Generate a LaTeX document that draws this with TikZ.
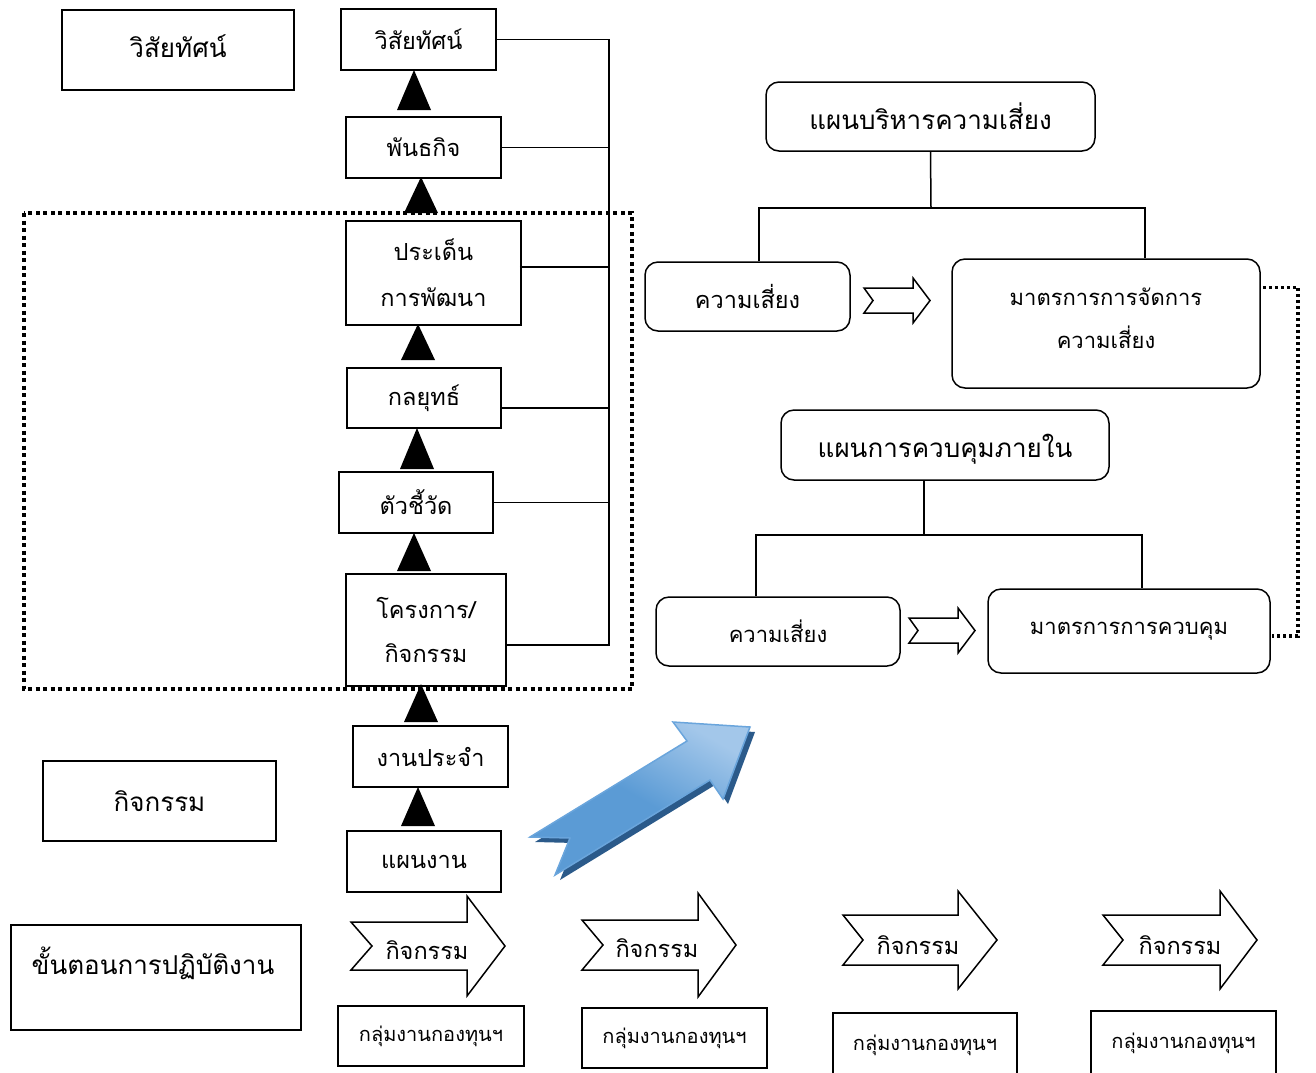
\documentclass[tikz,border=0pt]{standalone}
\usepackage{fontspec}
\newfontfamily\thai[Script=Thai]{Loma}
\usetikzlibrary{calc}
\definecolor{arrowlight}{HTML}{A3C7EA}
\definecolor{arrowmid}{HTML}{5B9BD5}
\definecolor{arrowedge}{HTML}{6AA5DC}
\definecolor{arrowshadow}{HTML}{2B5A8A}
\newcommand{\chevshape}[7]{%
  \draw[chevline] (#1,#2-#6) -- (#4,#2-#6) -- (#4,#2-#7) -- (#5,#2) -- (#4,#2+#7) -- (#4,#2+#6) -- (#1,#2+#6) -- (#1+#3,#2) -- cycle;}
\begin{document}
\begin{tikzpicture}[x=1pt,y=-1pt,
  box/.style={draw, line width=1.5pt, inner sep=0pt, align=center, font=\thai\fontsize{23.5}{46}\selectfont},
  bigbox/.style={box, font=\thai\fontsize{26}{44}\selectfont},
  rbox/.style={box, rounded corners=13pt},
  rtext/.style={font=\thai\fontsize{22}{43}\selectfont},
  headbox/.style={rbox, font=\thai\fontsize{26}{44}\selectfont},
  smallbox/.style={box, font=\thai\fontsize{20}{30}\selectfont},
  conn/.style={line width=1.5pt},
  tri/.style={fill=black},
  chevline/.style={draw, line width=1.5pt, fill=white, line join=miter},
  chevtext/.style={font=\thai\fontsize{23.5}{30}\selectfont, inner sep=0pt},
  dotline/.style={line width=4pt, dash pattern=on 4pt off 3.5pt},
  dotline2/.style={line width=3.2pt, dash pattern=on 3pt off 3pt}
]
\useasboundingbox (0,0) rectangle (1316,1072);

% dotted frame
\draw[dotline] (24,213) rectangle (632,689);

% left boxes
\node[bigbox, minimum width=232pt, minimum height=80pt] (l1) at (178,50) {};
\node[font=\thai\fontsize{26}{30}\selectfont, inner sep=0pt] (l1t) at (178,46) {วิสัยทัศน์};
\node[bigbox, minimum width=233pt, minimum height=80pt] (l2) at (159.5,801) {กิจกรรม};
\node[box, minimum width=290pt, minimum height=105pt] (l3) at (156,977.5) {};
\node[font=\thai\fontsize{26}{30}\selectfont, inner sep=0pt] (l3t) at (153,963) {ขั้นตอนการปฏิบัติงาน};

% central column
\node[box, minimum width=155pt, minimum height=61pt, fill=white] (b1) at (418.5,39.5) {วิสัยทัศน์};
\node[box, minimum width=155pt, minimum height=61pt, fill=white] (b2) at (423.5,147.5) {พันธกิจ};
\node[box, minimum width=175pt, minimum height=104pt, fill=white] (b3) at (433.5,273) {ประเด็น\\การพัฒนา};
\node[box, minimum width=154pt, minimum height=60pt, fill=white] (b4) at (424,398) {กลยุทธ์};
\node[box, minimum width=154pt, minimum height=61pt, fill=white] (b5) at (416,502.5) {ตัวชี้วัด};
\node[box, minimum width=160pt, minimum height=112pt, fill=white, font=\thai\fontsize{23.5}{44}\selectfont] (b6) at (426,630) {โครงการ/\\กิจกรรม};
\node[box, minimum width=155pt, minimum height=61pt, fill=white] (b7) at (430.5,756.5) {งานประจำ};
\node[box, minimum width=154pt, minimum height=61pt, fill=white] (b8) at (424,861.5) {แผนงาน};

% triangles
\fill[tri] (414,70) -- (431,110) -- (397,110) -- cycle;
\fill[tri] (421,177) -- (438,213) -- (404,213) -- cycle;
\fill[tri] (418,324) -- (435,360) -- (401,360) -- cycle;
\fill[tri] (417,428) -- (434,469) -- (400,469) -- cycle;
\fill[tri] (414,533) -- (431,571) -- (397,571) -- cycle;
\fill[tri] (421,684) -- (438,722) -- (404,722) -- cycle;
\fill[tri] (418,787) -- (435,826) -- (401,826) -- cycle;

% bus on the right of the column
\coordinate (bus) at (609,0);
\draw[conn] (b1.east) -- (b1.east -| bus) -- ([yshift=-15pt]b6.east -| bus) -- ([yshift=-15pt]b6.east);
\draw[conn] (b2.east) -- (b2.east -| bus);
\draw[conn] ([yshift=6pt,xshift=-2pt]b3.east) -- ([yshift=6pt]b3.east -| bus);
\draw[conn] ([yshift=-10pt]b4.east) -- ([yshift=-10pt]b4.east -| bus);
\draw[conn] (b5.east) -- (b5.east -| bus);

% right: risk management plan
\node[headbox, minimum width=329pt, minimum height=69pt] (h1) at (930.5,116.5) {แผนบริหารความเสี่ยง};
\node[rbox, minimum width=205pt, minimum height=69pt] (r1) at (747.5,296.5) {ความเสี่ยง};
\node[rbox, minimum width=308pt, minimum height=129pt] (r2) at (1106,323.5) {};
\node[rtext, align=center, inner sep=0pt] (r2t) at (1106,318) {มาตรการการจัดการ\\ความเสี่ยง};
\coordinate (j1) at (931,208);
\draw[conn] (h1.south) -- (j1);
\draw[conn] ([xshift=11.5pt]r1.north) -- ([xshift=11.5pt]r1.north |- j1) -- ([xshift=39pt]r2.north |- j1) -- ([xshift=39pt]r2.north);

% right: internal control plan
\node[headbox, minimum width=328pt, minimum height=70pt] (h2) at (945,445) {};
\node[font=\thai\fontsize{26}{30}\selectfont, inner sep=0pt] (h2t) at (945,449) {แผนการควบคุมภายใน};
\node[rbox, minimum width=244pt, minimum height=69pt, font=\thai\fontsize{22}{30}\selectfont] (r3) at (778,631.5) {ความเสี่ยง};
\node[rbox, minimum width=282pt, minimum height=84pt, font=\thai\fontsize{22}{30}\selectfont] (r4) at (1129,631) {มาตรการการควบคุม};
\coordinate (j2) at (924,535);
\draw[conn] ([xshift=-21pt]h2.south) -- (j2);
\draw[conn] ([xshift=-22pt]r3.north) -- ([xshift=-22pt]r3.north |- j2) -- ([xshift=13pt]r4.north |- j2) -- ([xshift=13pt]r4.north);

% hollow arrows
\chevshape{864}{300.5}{9}{913}{930}{12.5}{22.5}
\chevshape{909}{630.5}{9}{958}{975}{12.5}{22.5}

% dotted link
\coordinate (dl) at (1298,0);
\draw[dotline2] ([yshift=-29pt,xshift=2pt]r2.north east) -- ([yshift=-29pt]r2.north east -| dl) -- ([yshift=-5pt]r4.east -| dl) -- ([yshift=-5pt,xshift=1pt]r4.east);

% blue block arrow
\fill[arrowshadow] (535,842) -- (692,746) -- (678,727) -- (755,732) -- (728,804) -- (715,785) -- (560,880) -- (575,843) -- cycle;
\path[draw=arrowedge, line width=1.5pt, line join=miter, top color=arrowlight, bottom color=arrowmid, middle color=arrowmid, shading angle=-30]
  (530,837) -- (687,741) -- (673,722) -- (750,727) -- (723,799) -- (710,780) -- (555,875) -- (570,838) -- cycle;

% bottom activity arrows
\chevshape{351}{946}{21}{467}{505}{24}{50}
\chevshape{582}{945}{21}{698}{736}{25}{52}
\chevshape{843}{940}{20}{958}{997}{25}{49}
\chevshape{1103}{940}{20}{1220}{1257}{25}{49}
\node[chevtext] (a1) at (427,950) {กิจกรรม};
\node[chevtext] (a2) at (657,948) {กิจกรรม};
\node[chevtext] (a3) at (918,945) {กิจกรรม};
\node[chevtext] (a4) at (1180,945) {กิจกรรม};

% bottom group boxes
\node[smallbox, minimum width=186pt, minimum height=60pt] (g1) at (431,1036) {กลุ่มงานกองทุนฯ};
\node[smallbox, minimum width=185pt, minimum height=60pt] (g2) at (674.5,1038) {กลุ่มงานกองทุนฯ};
\node[smallbox, minimum width=184pt, minimum height=64pt] (g3) at (925,1045) {กลุ่มงานกองทุนฯ};
\node[smallbox, minimum width=185pt, minimum height=64pt] (g4) at (1183.5,1043) {กลุ่มงานกองทุนฯ};
\end{tikzpicture}
\end{document}
